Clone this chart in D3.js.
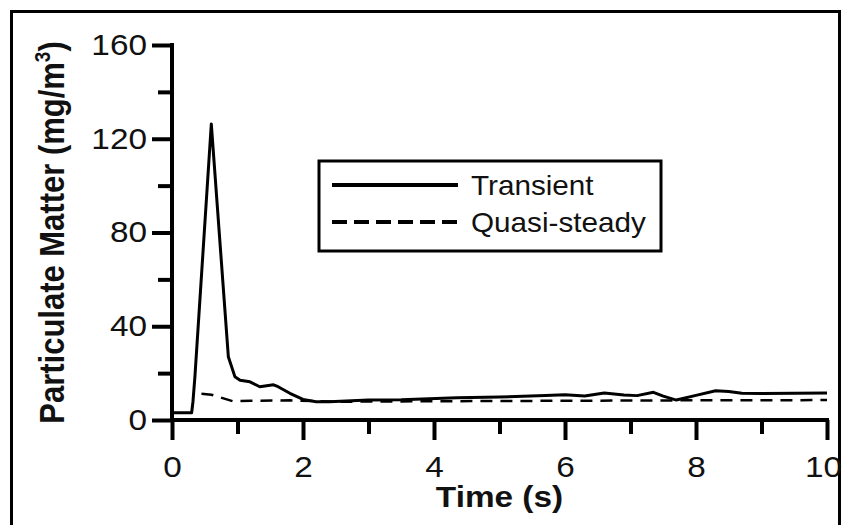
<!DOCTYPE html>
<html>
<head>
<meta charset="utf-8">
<script src="https://d3js.org/d3.v7.min.js"></script>
<style>
  body { margin: 0; background: #fff; }
  svg text { font-family: "Liberation Sans", Arial, sans-serif; fill: #111; }
</style>
</head>
<body>
<div id="chart"></div>
<script>
// Transient series (time in s, PM in mg/m3)
const transientTime = [0, 0.3, 0.32, 0.35, 0.6, 0.86, 0.96, 1.04, 1.19, 1.34, 1.55, 1.62, 1.8, 2.0, 2.2, 2.4, 3.0, 3.5, 4.35, 5.0, 5.7, 6.0, 6.3, 6.6, 6.9, 7.1, 7.35, 7.5, 7.7, 8.0, 8.3, 8.5, 8.7, 9.0, 10.0];
const transientPM = [3.1, 3.1, 7.8, 18.5, 126.3, 27, 18.5, 17, 16.3, 14.2, 15, 14.2, 11.4, 8.8, 7.8, 7.8, 8.5, 8.6, 9.5, 9.8, 10.5, 10.8, 10.2, 11.5, 10.7, 10.4, 11.8, 10.2, 8.5, 10.5, 12.5, 12.2, 11.4, 11.3, 11.5];

// Quasi-steady series
const quasiTime = [0.45, 0.6, 0.93, 1.2, 1.8, 2.5, 4.0, 6.0, 8.0, 10.0];
const quasiPM = [11.2, 10.8, 8.0, 8.2, 8.4, 7.8, 8.0, 8.2, 8.4, 8.5];

const seriesNames = ["Transient", "Quasi-steady"];

// Axis ticks
const xMajor = [0, 2, 4, 6, 8, 10];
const xMinor = [1, 3, 5, 7, 9];
const yMajor = [0, 40, 80, 120, 160];
const yMinor = [20, 60, 100, 140];

const width = 844;
const height = 525;
const margin = { left: 172, right: 17, top: 45, bottom: 105 };

// the original picture is a bit wider than tall, so text gets stretched
const stretch = 1.15;

const svg = d3.select("#chart")
    .append("svg")
    .attr("width", width)
    .attr("height", height);

// outer frame
svg.append("path")
    .attr("d", `M11.5,${height} V11.5 H839.5 V${height}`)
    .attr("fill", "none")
    .attr("stroke", "#000")
    .attr("stroke-width", 3);

const x = d3.scaleLinear().domain([0, 10]).range([margin.left, width - margin.right]);
const y = d3.scaleLinear().domain([0, 160]).range([height - margin.bottom, margin.top]);

const axisColor = "#000";
const axisWidth = 4;

function styleAxis(g) {
    g.select(".domain").remove();
    g.selectAll(".tick line").attr("stroke", axisColor).attr("stroke-width", axisWidth);
    g.selectAll(".tick text")
        .style("font-size", "29px")
        .attr("fill", "#111")
        .attr("x", function () { return (+this.getAttribute("x") || 0) / stretch; })
        .attr("transform", `scale(${stretch},1)`);
}

svg.append("g")
    .attr("transform", `translate(0,${y(0)})`)
    .call(d3.axisBottom(x).tickValues(xMinor).tickSize(14).tickFormat(""))
    .call(styleAxis);

const xAxisMajor = svg.append("g")
    .attr("transform", `translate(0,${y(0)})`)
    .call(d3.axisBottom(x).tickValues(xMajor).tickSize(20).tickPadding(16).tickFormat(d3.format("d")))
    .call(styleAxis);

// last label sits right against the frame
xAxisMajor.selectAll(".tick text")
    .filter(d => d === 10)
    .attr("x", -4 / stretch);

svg.append("g")
    .attr("transform", `translate(${x(0)},0)`)
    .call(d3.axisLeft(y).tickValues(yMinor).tickSize(14).tickFormat(""))
    .call(styleAxis);

svg.append("g")
    .attr("transform", `translate(${x(0)},0)`)
    .call(d3.axisLeft(y).tickValues(yMajor).tickSize(20).tickPadding(5).tickFormat(d3.format("d")))
    .call(styleAxis);

// axis lines
svg.append("line")
    .attr("x1", x(0)).attr("x2", x(10))
    .attr("y1", y(0)).attr("y2", y(0))
    .attr("stroke", axisColor).attr("stroke-width", axisWidth)
    .attr("stroke-linecap", "square");
svg.append("line")
    .attr("x1", x(0)).attr("x2", x(0))
    .attr("y1", y(0)).attr("y2", y(160))
    .attr("stroke", axisColor).attr("stroke-width", axisWidth)
    .attr("stroke-linecap", "square");

// data lines
const line = d3.line()
    .x(d => x(d[0]))
    .y(d => y(d[1]));

const transientData = transientTime.map((t, i) => [t, transientPM[i]]);
const quasiData = quasiTime.map((t, i) => [t, quasiPM[i]]);

svg.append("path")
    .datum(quasiData)
    .attr("d", line)
    .attr("fill", "none")
    .attr("stroke", "#000")
    .attr("stroke-width", 2.5)
    .attr("stroke-dasharray", "12,8");

svg.append("path")
    .datum(transientData)
    .attr("d", line)
    .attr("fill", "none")
    .attr("stroke", "#000")
    .attr("stroke-width", 3)
    .attr("stroke-linejoin", "round");

// axis titles
svg.append("g")
    .attr("transform", `translate(${(x(0) + x(10)) / 2},507) scale(${stretch},1)`)
    .append("text")
    .attr("text-anchor", "middle")
    .style("font-size", "29px")
    .style("font-weight", "bold")
    .text("Time (s)");

const yTitle = svg.append("text")
    .attr("transform", `translate(64,${(y(0) + y(160)) / 2}) scale(${stretch},1) rotate(-90)`)
    .attr("text-anchor", "middle")
    .style("font-size", "31px")
    .style("font-weight", "bold");
yTitle.append("tspan").text("Particulate Matter (mg/m");
yTitle.append("tspan").attr("dy", -12).style("font-size", "19px").text("3");
yTitle.append("tspan").attr("dy", 12).text(")");

// legend
const legend = svg.append("g");
legend.append("rect")
    .attr("x", 319).attr("y", 161)
    .attr("width", 342).attr("height", 90)
    .attr("fill", "#fff")
    .attr("stroke", "#000")
    .attr("stroke-width", 3);

const legendRows = legend.selectAll(".row")
    .data(seriesNames)
    .enter()
    .append("g")
    .attr("class", "row")
    .attr("transform", (d, i) => `translate(332,${185 + i * 37})`);

legendRows.append("line")
    .attr("x1", 0).attr("x2", 126)
    .attr("stroke", "#000")
    .attr("stroke-width", 4)
    .attr("stroke-dasharray", (d, i) => i === 0 ? null : "15,7");

legendRows.append("text")
    .attr("transform", "translate(139,0) scale(1.06,1)")
    .attr("dy", "0.35em")
    .style("font-size", "28px")
    .text(d => d);
</script>
</body>
</html>
